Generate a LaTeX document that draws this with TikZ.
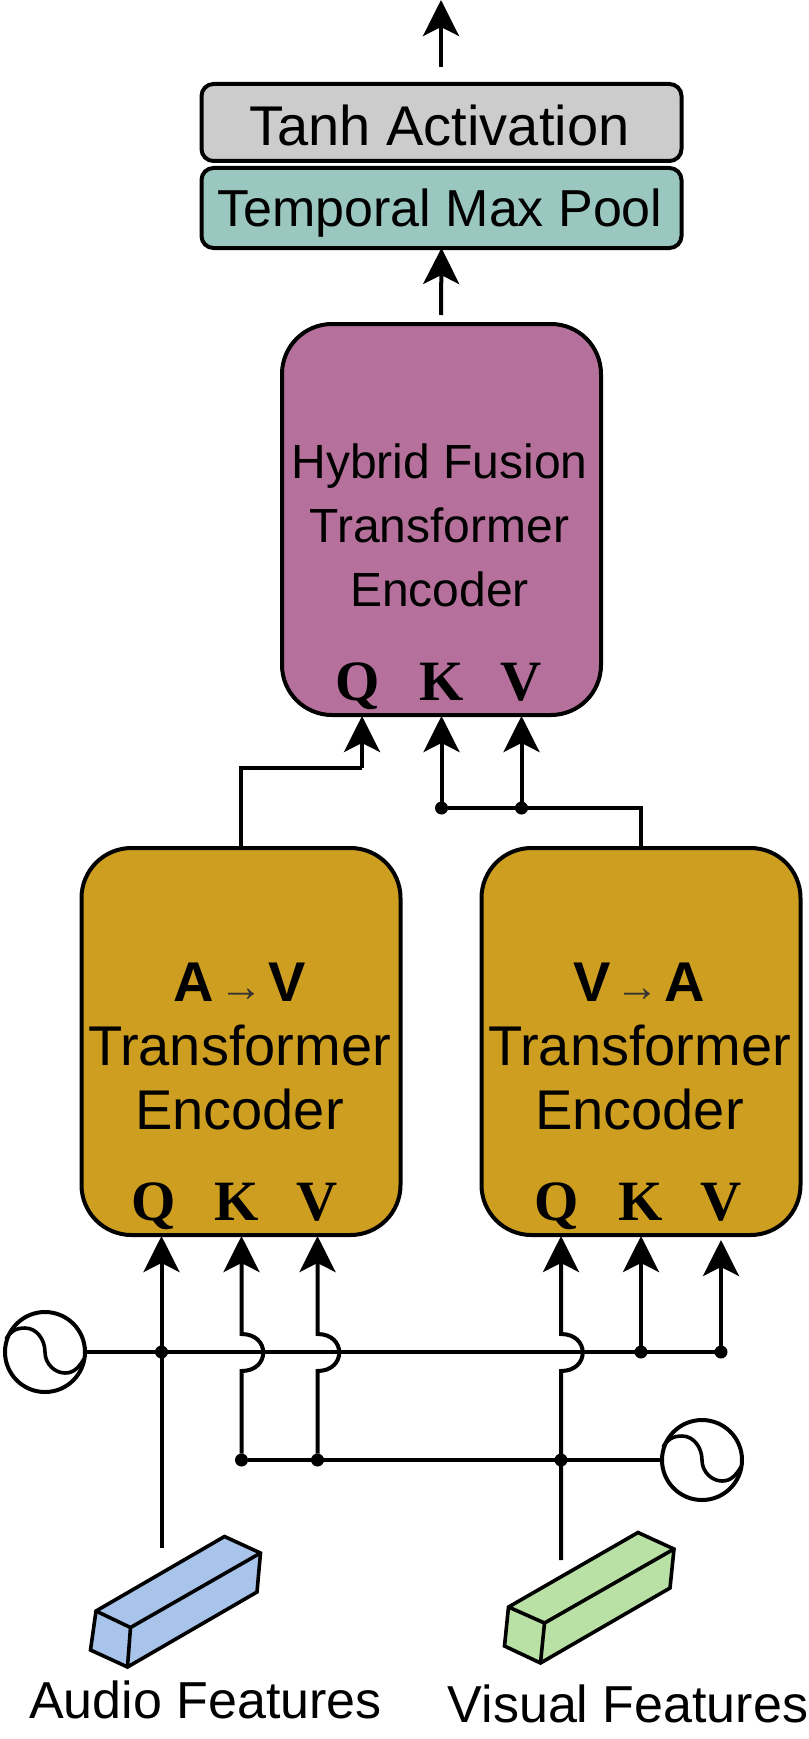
\documentclass[tikz,border=0pt]{standalone}
\usepackage{fontspec}
\setmainfont{Liberation Sans}
\newfontfamily\kqvfont{Liberation Serif}
\usetikzlibrary{arrows.meta,positioning,shapes}
\definecolor{goldbox}{HTML}{CD9E1F}
\definecolor{plumbox}{HTML}{B5719B}
\definecolor{tealbox}{HTML}{9AC7BF}
\definecolor{greybox}{HTML}{CCCCCC}
\definecolor{audiobar}{HTML}{A9C4EB}
\definecolor{visualbar}{HTML}{B9E0A5}
\newcommand{\txt}[1]{\fontsize{#1}{64}\selectfont}
\newcommand{\thinarrow}{\hspace{5pt}{\color{black!80}\txt{44}→}\hspace{5pt}}
\tikzset{
  box/.style={draw,line width=4,rounded corners=#1,inner sep=0,outer sep=0},
  lbl/.style={inner sep=0,outer sep=0,anchor=base,align=center},
  kqv/.style={lbl,font=\kqvfont\bfseries\txt{57}},
  wire/.style={line width=4},
  arr/.style={wire,-{Stealth[length=36,width=36,inset=9]}},
  dotn/.style={circle,fill=black,inner sep=0,outer sep=0,minimum size=13},
  srcn/.style={draw,circle,line width=4,inner sep=0,outer sep=0,minimum size=80},
  bar/.style={draw,line width=3.6,line join=miter},
  sine/.style={line width=3.6}
}
\begin{document}
\begin{tikzpicture}[x=1pt,y=-1pt]
\useasboundingbox (0,0) rectangle (808,1739);
% top boxes
\node[box=12,fill=greybox,minimum width=480,minimum height=77] (tanh) at (441.5,122.5) {};
\node[box=12,fill=tealbox,minimum width=480,minimum height=80] (pool) at (441.5,208) {};
\node[lbl,font=\txt{56}] (tanhtxt) at (439.5,146) {Tanh Activation};
\node[lbl,font=\txt{52}] (pooltxt) at (440,226) {Temporal Max Pool};
\coordinate (out0) at (441,67);
\coordinate (out1) at (441,0);
\draw[arr] (out0) -- (out1);
% fusion
\node[box=50,fill=plumbox,minimum width=319,minimum height=391] (hyb) at (441.5,519.5) {};
\node[lbl,font=\txt{48}] (hybtxt) at (439.5,606) {Hybrid Fusion\\Transformer\\Encoder};
\node[kqv] (hq) at (357.5,700) {Q};
\node[kqv] (hk) at (441.5,700) {K};
\node[kqv] (hv) at (521.5,700) {V};
\coordinate (hqp) at (362,716);
\coordinate (hkp) at (441.5,716);
\coordinate (hvp) at (521.5,716);
\coordinate (hout) at (441,315);
\draw[arr] (hout) -- (pool.south);
% cross encoders
\node[box=50,fill=goldbox,minimum width=319,minimum height=387] (av) at (241,1041.5) {};
\node[box=50,fill=goldbox,minimum width=319,minimum height=387] (va) at (641,1041.5) {};
\node[lbl,font=\txt{56}] (avtxt) at (239.5,1129.5) {\textbf{A}\thinarrow\textbf{V}\\Transformer\\Encoder};
\node[lbl,font=\txt{56}] (vatxt) at (639.5,1129.5) {\textbf{V}\thinarrow\textbf{A}\\Transformer\\Encoder};
\node[kqv] (aq) at (153.5,1220) {Q};
\node[kqv] (ak) at (236.5,1220) {K};
\node[kqv] (av1) at (317,1220) {V};
\node[kqv] (vq) at (557,1220) {Q};
\node[kqv] (vk) at (640.5,1220) {K};
\node[kqv] (vv) at (721,1220) {V};
\coordinate (aqp) at (161.5,1236);
\coordinate (akp) at (241.5,1236);
\coordinate (avp) at (317.5,1236);
\coordinate (vqp) at (561,1236);
\coordinate (vkp) at (641,1236);
\coordinate (vvp) at (721,1240);
% junctions above
\node[dotn] (j1) at (441.5,808) {};
\node[dotn] (j2) at (521.5,808) {};
\draw[wire] (av.north) |- (362,768) coordinate (bend);
\draw[arr] (bend) -- (hqp);
\draw[wire] (va.north) |- (j1);
\draw[arr] (j1) -- (hkp);
\draw[arr] (j2) -- (hvp);
% sources
\node[srcn] (srca) at (45,1352) {};
\node[srcn] (srcv) at (702,1460) {};
\draw[sine] (srca.center) ++(-39,-13) .. controls +(4,-7) and +(-10,0) .. ++(19,-11)
  .. controls +(12,0) and +(0,-12) .. ++(20,24) .. controls +(0,12) and +(-10,0) .. ++(20,21)
  .. controls +(9,0) and +(-5,8) .. ++(19,-14);
\draw[sine] (srcv.center) ++(-39,-13) .. controls +(4,-7) and +(-10,0) .. ++(19,-11)
  .. controls +(12,0) and +(0,-12) .. ++(20,24) .. controls +(0,12) and +(-10,0) .. ++(20,21)
  .. controls +(9,0) and +(-5,8) .. ++(19,-14);
\node[dotn] (a0) at (161.5,1352) {};
\node[dotn] (a1) at (641,1352) {};
\node[dotn] (a2) at (721,1352) {};
\node[dotn] (v0) at (241.5,1460) {};
\node[dotn] (v1) at (317.5,1460) {};
\node[dotn] (v2) at (561,1460) {};
\draw[wire] (srca.east) -- (a2);
\draw[wire] (v0) -- (srcv.west);
\draw[arr] (a1) -- (vkp);
\draw[arr] (a2) -- (vvp);
% feeds
\coordinate (afeed) at (161.5,1548);
\coordinate (vfeed) at (561,1560);
\draw[arr] (afeed) -- (aqp);
\draw[arr] (v0) -- ++(0,-89) .. controls +(29,0) and +(29,0) .. ++(0,-37) -- (akp);
\draw[arr] (v1) -- ++(0,-89) .. controls +(29,0) and +(29,0) .. ++(0,-37) -- (avp);
\draw[arr] (vfeed) -- ++(0,-189) .. controls +(29,0) and +(29,0) .. ++(0,-37) -- (vqp);
% bars
\draw[bar,fill=audiobar] (224.5,1536.5) -- (260.5,1553) -- (257,1592) -- (127.5,1667) -- (90.5,1650) -- (96,1611) -- cycle;
\draw[bar] (96,1611) -- (130.5,1627.5) -- (260.5,1553);
\draw[bar] (130.5,1627.5) -- (127.5,1667);
\draw[bar,fill=visualbar] (638,1532.5) -- (674,1549) -- (670,1588) -- (540.5,1663) -- (504.5,1646) -- (508.5,1607) -- cycle;
\draw[bar] (508.5,1607) -- (544.5,1623) -- (674,1549);
\draw[bar] (544.5,1623) -- (540.5,1663);
\node[lbl,font=\txt{52}] (atxt) at (205.5,1718) {Audio Features};
\node[lbl,font=\txt{52}] (vtxt) at (628,1722) {Visual Features};
\end{tikzpicture}
\end{document}
